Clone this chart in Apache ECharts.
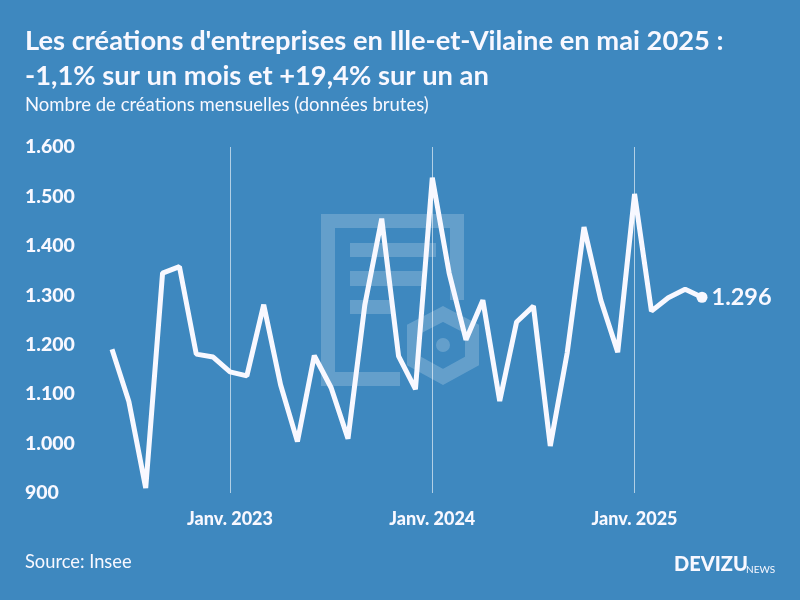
<!DOCTYPE html>
<html>
<head>
<meta charset="utf-8">
<script src="https://cdn.jsdelivr.net/npm/echarts@6/dist/echarts.min.js"></script>
<style>
html, body { margin: 0; padding: 0; background: #3e88bf; }
#main { width: 800px; height: 600px; }
</style>
</head>
<body>
<div id="main"></div>
<script>
var months = ['Juin 2022', 'Juil. 2022', 'Août 2022', 'Sept. 2022', 'Oct. 2022', 'Nov. 2022', 'Déc. 2022',
    'Janv. 2023', 'Févr. 2023', 'Mars 2023', 'Avr. 2023', 'Mai 2023', 'Juin 2023', 'Juil. 2023', 'Août 2023', 'Sept. 2023', 'Oct. 2023', 'Nov. 2023', 'Déc. 2023',
    'Janv. 2024', 'Févr. 2024', 'Mars 2024', 'Avr. 2024', 'Mai 2024', 'Juin 2024', 'Juil. 2024', 'Août 2024', 'Sept. 2024', 'Oct. 2024', 'Nov. 2024', 'Déc. 2024',
    'Janv. 2025', 'Févr. 2025', 'Mars 2025', 'Avr. 2025', 'Mai 2025'];
var creations = [1191, 1085, 910, 1345, 1358, 1181, 1175,
    1145, 1137, 1281, 1119, 1004, 1178, 1113, 1010, 1281, 1455, 1177, 1110,
    1538, 1345, 1210, 1290, 1086, 1246, 1278, 995, 1183, 1438, 1290, 1185,
    1505, 1268, 1295, 1312, 1296];

var WHITE = '#f8f8ff';
var FONT = 'Lato';

// 1296 -> 1.296
function fmt(v) {
    var s = String(v);
    return s.length > 3 ? s.slice(0, s.length - 3) + '.' + s.slice(-3) : s;
}
function isJan(i) {
    return months[i].indexOf('Janv.') === 0;
}

var lineData = [];
for (var i = 0; i < creations.length; i++) {
    if (i == creations.length - 1) {
        lineData.push({
            value: creations[i],
            symbol: 'circle',
            symbolSize: 11,
            label: {
                show: true, position: 'right', distance: 4,
                formatter: fmt(creations[i]),
                color: WHITE, fontFamily: FONT, fontWeight: 'bold', fontSize: 23.5
            }
        });
    } else {
        lineData.push({ value: creations[i], symbol: 'none' });
    }
}

var wmark = 'rgba(255,255,255,0.2)';
var myChart = echarts.init(document.getElementById('main'));
myChart.setOption({
    backgroundColor: '#3e88bf',
    animation: false,
    title: [
        {
            text: "Les créations d'entreprises en Ille-et-Vilaine en mai 2025 :\n-1,1% sur un mois et +19,4% sur un an",
            left: 20, top: 19,
            textStyle: { color: WHITE, fontFamily: FONT, fontWeight: 'bold', fontSize: 27.3, lineHeight: 35 }
        },
        {
            text: 'Nombre de créations mensuelles (données brutes)',
            left: 20, top: 91,
            textStyle: { color: WHITE, fontFamily: FONT, fontWeight: 'normal', fontSize: 18.5 }
        }
    ],
    grid: { left: 112, right: 98, top: 147, bottom: 107 },
    xAxis: {
        type: 'category',
        data: months,
        boundaryGap: false,
        axisLine: { show: false },
        axisTick: { show: false },
        axisLabel: {
            interval: function (i) { return isJan(i); },
            color: WHITE, fontFamily: FONT, fontWeight: 900, fontSize: 18, margin: 17
        },
        splitLine: {
            show: true,
            interval: function (i) { return isJan(i); },
            lineStyle: { color: 'rgba(255,255,255,0.6)', width: 1 }
        }
    },
    yAxis: {
        type: 'value',
        min: 900, max: 1600, interval: 100,
        axisLine: { show: false },
        axisTick: { show: false },
        splitLine: { show: false },
        axisLabel: {
            formatter: fmt,
            align: 'left', margin: 87,
            color: WHITE, fontFamily: FONT, fontWeight: 900, fontSize: 19.5
        }
    },
    series: [{
        type: 'line',
        data: lineData,
        showAllSymbol: true,
        itemStyle: { color: WHITE },
        lineStyle: { color: WHITE, width: 5, join: 'bevel', cap: 'butt' },
        emphasis: { disabled: true }
    }],
    graphic: [
        // filigrane du logo, sous la courbe
        { type: 'polyline', z: 0, shape: { points: [[400, 379], [328, 379], [328, 221], [457, 221], [457, 300]] },
          style: { stroke: wmark, lineWidth: 14, fill: null } },
        { type: 'rect', z: 0, shape: { x: 350, y: 243, width: 86, height: 14 }, style: { fill: wmark } },
        { type: 'rect', z: 0, shape: { x: 350, y: 271, width: 72, height: 15 }, style: { fill: wmark } },
        { type: 'rect', z: 0, shape: { x: 350, y: 300, width: 42, height: 14 }, style: { fill: wmark } },
        { type: 'polygon', z: 0, shape: { points: [[443, 314], [472, 329], [472, 361], [443, 377], [414, 361], [414, 329]] },
          style: { stroke: wmark, lineWidth: 14, fill: null } },
        { type: 'circle', z: 0, shape: { cx: 443, cy: 345, r: 7 }, style: { fill: wmark } },
        // pied de page
        { type: 'text', left: 25, top: 553,
          style: { text: 'Source: Insee', fill: WHITE, font: 'normal 18.3px Lato' } },
        { type: 'text', left: 674, top: 555,
          style: { text: 'DEVIZU', fill: WHITE, font: '900 20px Lato' } },
        { type: 'text', left: 746, top: 565,
          style: { text: 'NEWS', fill: WHITE, font: 'normal 10px Lato' } }
    ]
});
</script>
</body>
</html>
